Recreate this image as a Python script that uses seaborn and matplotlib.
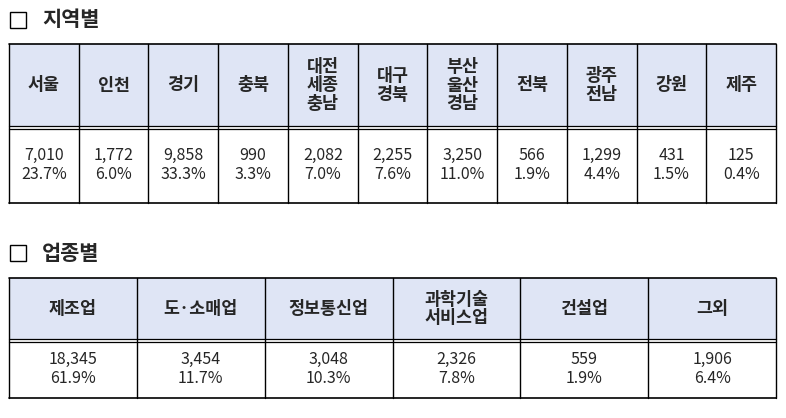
import numpy as np
import matplotlib
matplotlib.use("Agg")
import matplotlib.pyplot as plt
import seaborn as sns

sns.set_theme(style="white")
plt.rcParams['font.family'] = ['Noto Sans CJK KR', 'DejaVu Sans']

region_title = "지역별"
regions = ["서울", "인천", "경기", "충북", "대전\n세종\n충남", "대구\n경북", "부산\n울산\n경남",
           "전북", "광주\n전남", "강원", "제주"]
region_counts = ["7,010", "1,772", "9,858", "990", "2,082", "2,255", "3,250", "566", "1,299", "431", "125"]
region_pcts = ["23.7%", "6.0%", "33.3%", "3.3%", "7.0%", "7.6%", "11.0%", "1.9%", "4.4%", "1.5%", "0.4%"]

industry_title = "업종별"
industries = ["제조업", "도·소매업", "정보통신업", "과학기술\n서비스업", "건설업", "그외"]
industry_counts = ["18,345", "3,454", "3,048", "2,326", "559", "1,906"]
industry_pcts = ["61.9%", "11.7%", "10.3%", "7.8%", "1.9%", "6.4%"]

fig = plt.figure(figsize=(7.86, 4.18), dpi=100)
ax = fig.add_axes([0, 0, 1, 1])
ax.set_xlim(0, 786); ax.set_ylim(418, 0); ax.axis("off")
HDR = "#dfe5f5"

def table(y0, y1, y2, heads, counts, pcts):
    xs = np.linspace(9, 776, len(heads) + 1)
    ax.add_patch(plt.Rectangle((xs[0], y0), xs[-1] - xs[0], y1 - y0, fc=HDR, ec="none"))
    for y in (y0, y2):
        ax.plot([xs[0], xs[-1]], [y, y], color="black", lw=1.2)
    ax.plot([xs[0], xs[-1]], [y1 - 1.5, y1 - 1.5], color="black", lw=0.9)
    ax.plot([xs[0], xs[-1]], [y1 + 1.5, y1 + 1.5], color="black", lw=0.9)
    for x in xs:
        ax.plot([x, x], [y0, y2], color="black", lw=1.0)
    for i, h in enumerate(heads):
        cx = (xs[i] + xs[i + 1]) / 2
        ax.text(cx, (y0 + y1) / 2, h, ha="center", va="center", fontsize=12.5,
                fontweight="bold", linespacing=1.05)
        ax.text(cx, (y1 + y2) / 2, counts[i] + "\n" + pcts[i], ha="center", va="center",
                fontsize=11.5, linespacing=1.15)

def title(y, t):
    ax.add_patch(plt.Rectangle((10, y - 8), 16, 16, fc="white", ec="black", lw=1.0))
    ax.text(42, y, t, ha="left", va="center", fontsize=15, fontweight="bold")

title(20, region_title)
table(44, 127, 203, regions, region_counts, region_pcts)
title(253, industry_title)
table(278, 340, 398, industries, industry_counts, industry_pcts)

fig.savefig("out.png", dpi=100)
